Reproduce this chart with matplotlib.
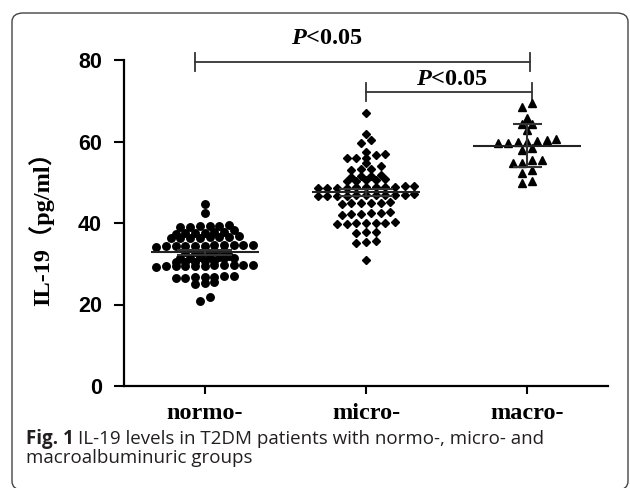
"""IL-19 levels scatter (mean +/- error) for three albuminuria groups."""
import matplotlib

matplotlib.use("Agg")
import matplotlib.pyplot as plt  # noqa: E402
import numpy as np  # noqa: E402
from matplotlib.patches import FancyBboxPatch  # noqa: E402

groups = ["normo-", "micro-", "macro-"]

normo = [
    44.6, 42.5,
    39.0, 39.1, 39.2, 39.4, 39.2, 39.3,
    37.4, 37.5, 37.6, 37.6, 37.7, 37.8, 38.4,
    36.2, 36.3, 36.4, 36.5, 36.4, 36.6, 36.7, 36.5,
    34.2, 34.3, 34.4, 34.5, 34.4, 34.6, 34.5, 34.7, 34.3, 34.6, 34.4,
    32.8, 32.9, 33.0, 33.1, 33.2,
    31.3, 31.4, 31.5, 31.6, 31.5, 31.7, 31.6, 31.8,
    30.4, 30.5, 30.6, 30.5, 30.7,
    29.3, 29.4, 29.5, 29.6, 29.5, 29.7, 29.6, 29.8, 29.4, 29.5, 29.6,
    26.5, 26.6, 26.7, 26.8, 26.7, 26.9, 27.0,
    25.0, 25.2, 25.4,
    21.9, 20.9,
]

micro = [
    67.1,
    61.8, 60.4, 59.6,
    57.5, 56.7, 55.9, 55.9, 56.0, 56.9,
    54.8, 54.0,
    53.2, 53.3, 53.1,
    51.4, 51.5, 51.5, 51.8,
    50.6, 50.4, 50.5, 50.3, 50.7,
    48.9, 48.7, 48.8, 48.6, 49.0, 48.8, 48.7, 48.9, 48.8, 48.6, 49.0,
    46.9, 46.7, 46.8, 46.6, 47.0, 46.8, 46.7, 46.9, 46.8, 46.6, 46.9,
    45.0, 44.8, 44.9, 45.2, 44.7, 44.9,
    42.5, 42.3, 42.2, 42.4, 42.0, 42.6,
    40.0, 39.8, 39.9, 40.1, 39.7, 40.2, 39.9,
    37.7, 37.5, 37.8,
    35.4, 35.2, 35.6,
    30.9,
]

macro = [
    68.4, 69.4, 65.7, 64.3, 64.3, 62.8,
    60.0, 60.0, 59.6, 60.4, 59.6, 60.2, 60.6,
    57.8, 58.3, 54.8, 55.5, 55.5, 54.8,
    52.2, 53.0, 49.7, 50.4,
]

err_kind = ["sem", "sem", "sd"]
markers = ["o", "D", "^"]
marker_sizes = [5.4, 4.3, 5.2]

# significance brackets: (x_left, x_right, y, label x, label y)
brackets = [(0.94, 3.017, 79.4, 1.76, 85.2), (1.997, 3.026, 72.2, 2.535, 75.3)]
p_label = r"$\mathit{P}$<0.05"

caption_bold = "Fig. 1"
caption_rest = ("IL-19 levels in T2DM patients with normo-, micro- and\n"
                "macroalbuminuric groups")

plt.rcParams["mathtext.fontset"] = "custom"
plt.rcParams["mathtext.it"] = "Liberation Serif:italic:bold"
plt.rcParams["mathtext.rm"] = "Liberation Serif:bold"

W, H = 630, 488


def row_offsets(values, step=0.06, row_h=1.0):
    """Prism-style scatter: group close values into rows, centre each row."""
    vals = np.asarray(values, float)
    order = np.argsort(vals)
    offs = np.zeros(len(vals))
    rows, cur, start = [], [], None
    for i in order:
        if start is None or vals[i] - start > row_h:
            if cur:
                rows.append(cur)
            cur, start = [], vals[i]
        cur.append(i)
    rows.append(cur)
    for r in rows:
        n = len(r)
        offs[r] = (np.arange(n) - (n - 1) / 2.0) * step
    return offs


fig = plt.figure(figsize=(W / 100, H / 100), dpi=100)
ax = fig.add_axes([124 / W, 1 - 386 / H, 484 / W, 326 / H])

for gi, vals in enumerate([normo, micro, macro]):
    xc = gi + 1
    offs = row_offsets(vals)
    ax.plot(xc + offs, vals, linestyle="none", marker=markers[gi],
            ms=marker_sizes[gi], color="black", mec="black", clip_on=False, zorder=3)
    v = np.asarray(vals)
    m = v.mean()
    sd = v.std(ddof=1)
    e = sd if err_kind[gi] == "sd" else sd / np.sqrt(len(v))
    cap = 0.09 if err_kind[gi] == "sd" else 0.17
    ax.hlines(m, xc - 0.335, xc + 0.335, color="#222222", lw=1.5, zorder=4)
    ax.hlines([m - e, m + e], xc - cap, xc + cap, color="#333333", lw=1.5, zorder=4)
    ax.vlines(xc, m - e, m + e, color="#333333", lw=1.5, zorder=4)

for x0, x1, y, tx, ty in brackets:
    ax.plot([x0, x1], [y, y], color="#333333", lw=1.3, clip_on=False)
    for xe in (x0, x1):
        ax.plot([xe, xe], [y - 2.2, y + 2.2], color="#333333", lw=1.3, clip_on=False)
    ax.text(tx, ty, p_label, ha="center", va="center", fontsize=17.5,
            family="Liberation Serif", fontweight="bold")

ax.set_xlim(0.5, 3.5)
ax.set_ylim(0, 80)
ax.set_xticks([1, 2, 3])
ax.set_xticklabels(groups, family="Liberation Serif", fontweight="bold", fontsize=17.5)
ax.set_yticks([0, 20, 40, 60, 80])
ax.set_yticklabels(["0", "20", "40", "60", "80"], family="Liberation Sans",
                   fontweight="bold", fontsize=15.5)
ax.tick_params(axis="y", direction="out", length=7, width=1.5, pad=9)
ax.tick_params(axis="x", direction="out", length=6, width=1.5, pad=6)
for s in ("top", "right"):
    ax.spines[s].set_visible(False)
for s in ("left", "bottom"):
    ax.spines[s].set_linewidth(1.6)
ax.set_ylabel("IL-19（pg/ml）", family=["Liberation Serif", "Noto Sans CJK SC"],
              fontweight="bold", fontsize=17.5)
ax.yaxis.set_label_coords(-0.145, 0.5)

# rounded frame round the whole figure
frame = FancyBboxPatch((12 / W, 1 - 490 / H), 616 / W, 477 / H,
                       boxstyle="round,pad=0,rounding_size=0.018",
                       transform=fig.transFigure, fill=False,
                       ec="#444444", lw=1.0)
fig.patches.append(frame)

renderer = fig.canvas.get_renderer()
t = fig.text(26 / W, 1 - 444 / H, caption_bold, family="Open Sans", fontweight="bold",
             fontsize=13.5, color="#231f20", va="baseline")
bb = t.get_window_extent(renderer)
fig.text((bb.x1 + 4) / W, 1 - 444 / H, caption_rest.split("\n")[0], family="Open Sans",
         fontsize=13.5, color="#231f20", va="baseline")
fig.text(26 / W, 1 - 463 / H, caption_rest.split("\n")[1], family="Open Sans",
         fontsize=13.5, color="#231f20", va="baseline")

fig.savefig("out.png", dpi=100)
plt.close(fig)
